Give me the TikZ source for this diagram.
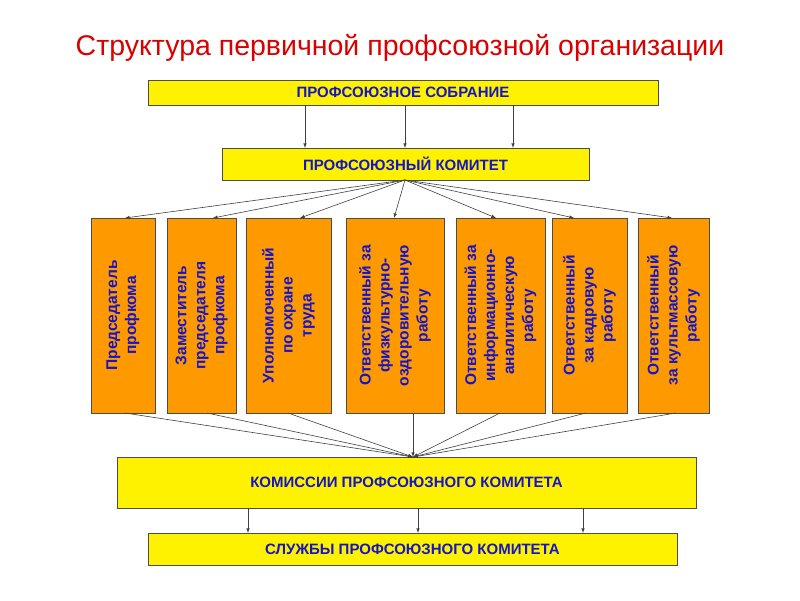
\documentclass[tikz,border=0pt]{standalone}
\usepackage{fontspec}
\setmainfont{Liberation Sans}
\definecolor{or}{RGB}{255,153,0}
\definecolor{tb}{RGB}{20,20,200}
\begin{document}
\begin{tikzpicture}[x=1pt,y=-1pt,
  ybox/.style={draw=black!70,fill=yellow,line width=0.8pt,inner sep=0,font=\bfseries\fontsize{15}{17}\selectfont,text=tb},
  obox/.style={draw=black!70,fill=or,line width=0.8pt,inner sep=0},
  vtext/.style={rotate=90,align=center,font=\bfseries\fontsize{15.5}{19}\selectfont,text=tb},
  arr/.style={-latex,black!75,line width=0.6pt}]
\useasboundingbox (0,0) rectangle (800,600);
\node[text=red!85!black,font=\fontsize{28.5}{32}\selectfont] (title) at (400,48) {Структура первичной профсоюзной организации};
\node[ybox,minimum width=510,minimum height=25] (sob) at (403,92.5) {ПРОФСОЮЗНОЕ СОБРАНИЕ};
\node[ybox,minimum width=367,minimum height=32] (kom) at (405.5,164) {ПРОФСОЮЗНЫЙ КОМИТЕТ};
\node[ybox,minimum width=579,minimum height=51] (kms) at (406.5,482.5) {КОМИССИИ ПРОФСОЮЗНОГО КОМИТЕТА};
\node[ybox,minimum width=529,minimum height=32] (slu) at (412.5,549) {СЛУЖБЫ ПРОФСОЮЗНОГО КОМИТЕТА};
\foreach \n/\l/\r/\t in {
  b1/91/155/{Председатель\\профкома},
  b2/167/236/{Заместитель\\председателя\\профкома},
  b3/246/331/{Уполномоченный\\по охране\\труда},
  b4/346/444/{Ответственный за\\физкультурно-\\оздоровительную\\работу},
  b5/456/545/{Ответственный за\\информационно-\\аналитическую\\работу},
  b6/552/627/{Ответственный\\за кадровую\\работу},
  b7/638/709/{Ответственный\\за культмассовую\\работу}}{
  \draw[obox] (\l,218) rectangle (\r,413);
  \node[vtext] (\n) at ({(\l+\r)/2},315.5) {\t};
}
\foreach \x in {305,405,513}{
  \coordinate (s\x) at (\x,105); \coordinate (e\x) at (\x,148);
  \draw[arr] (s\x) -- (e\x);}
\foreach \x in {248,418,583}{
  \coordinate (s\x) at (\x,508); \coordinate (e\x) at (\x,533);
  \draw[arr] (s\x) -- (e\x);}
\coordinate (kb) at (405,180);
\coordinate (kt) at (413,457);
\foreach \a/\b in {125/125,213/207,300/288,394/413,496/500,574/586,672/676}{
  \coordinate (t\a) at (\a,218); \coordinate (u\b) at (\b,413);
  \draw[arr] (kb) -- (t\a);
  \draw[arr] (u\b) -- (kt);}
\end{tikzpicture}
\end{document}
